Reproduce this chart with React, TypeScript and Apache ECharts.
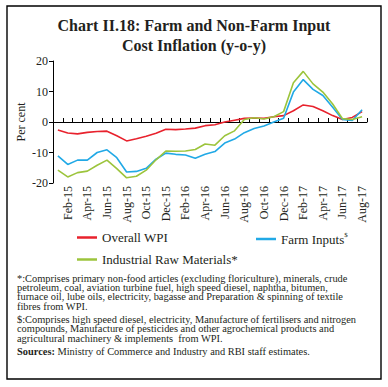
import React, { useEffect, useRef } from "react";
import * as echarts from "echarts";

const months: string[] = [
  "Jan-15", "Feb-15", "Mar-15", "Apr-15", "May-15", "Jun-15", "Jul-15", "Aug-15", "Sep-15", "Oct-15", "Nov-15", "Dec-15",
  "Jan-16", "Feb-16", "Mar-16", "Apr-16", "May-16", "Jun-16", "Jul-16", "Aug-16", "Sep-16", "Oct-16", "Nov-16", "Dec-16",
  "Jan-17", "Feb-17", "Mar-17", "Apr-17", "May-17", "Jun-17", "Jul-17", "Aug-17",
];

const overallWPI: number[] = [
  -2.6, -3.6, -3.9, -3.4, -3.1, -3.0, -4.5, -6.2, -5.5, -4.7, -3.7, -2.4,
  -2.5, -2.3, -2.0, -1.2, -0.9, 0.0, 0.6, 1.2, 1.3, 1.2, 1.7, 2.1,
  3.7, 5.6, 5.1, 3.7, 2.1, 0.8, 1.5, 3.4,
];

const farmInputs: number[] = [
  -11.1, -13.9, -12.5, -12.5, -10.0, -9.1, -11.7, -16.4, -16.2, -15.2, -12.2, -10.2,
  -10.6, -10.8, -11.9, -10.6, -9.7, -6.9, -5.6, -3.5, -2.1, -1.3, 0.0, 1.2,
  9.8, 13.9, 10.7, 8.7, 4.8, 0.8, 0.5, 4.0,
];

const industrialRaw: number[] = [
  -15.8, -18.0, -16.6, -16.1, -14.2, -12.5, -15.3, -18.3, -17.8, -15.8, -12.4, -9.5,
  -9.6, -9.5, -9.0, -7.2, -7.6, -4.5, -2.9, 0.8, 1.4, 1.0, 1.7, 3.4,
  12.9, 16.6, 12.5, 9.8, 5.9, 1.1, 0.8, 1.7,
];

const yTicks = { min: -20, max: 20, interval: 10 };

const titleLines: string[] = ["Chart II.18: Farm and Non-Farm Input", "Cost Inflation (y-o-y)"];

const noteStar: string[] = [
  "*:Comprises primary non-food articles (excluding floriculture), minerals, crude",
  "petroleum, coal, aviation turbine fuel, high speed diesel, naphtha, bitumen,",
  "furnace oil, lube oils, electricity, bagasse and Preparation & spinning of textile",
  "fibres from WPI.",
];
const noteDollar: string[] = [
  "$:Comprises high speed diesel, electricity, Manufacture of fertilisers and nitrogen",
  "compounds, Manufacture of pesticides and other agrochemical products and",
  "agricultural machinery & implements  from WPI.",
];
const sourceLabel = "Sources:";
const sourceText = " Ministry of Commerce and Industry and RBI staff estimates.";

const RED = "#e8222d";
const BLUE = "#21a9e6";
const GREEN = "#9cc43c";
const INK = "#231f20";
const SERIF = "'Liberation Serif', 'DejaVu Serif', serif";

export default function App() {
  const ref = useRef<HTMLDivElement>(null);
  useEffect(() => {
    if (!ref.current) return;
    const chart = echarts.init(ref.current, null, { renderer: "svg" });

    const noteFont = 10.4;
    const noteLH = 9.4;
    const noteX = 17;
    const graphics: any[] = [
      {
        type: "rect",
        shape: { x: 7, y: 6, width: 374, height: 373 },
        style: { fill: "none", stroke: "#000", lineWidth: 1.4 },
        silent: true,
      },
    ];
    titleLines.forEach((t, i) => {
      graphics.push({
        type: "text",
        x: 194,
        y: 25 + i * 20,
        style: {
          text: t,
          fill: INK,
          font: `bold 16px ${SERIF}`,
          textAlign: "center",
          textVerticalAlign: "middle",
        },
      });
    });
    const noteStyle = (t: string) => ({
      text: t,
      fill: INK,
      fontFamily: SERIF,
      fontSize: noteFont,
      lineHeight: noteLH,
      textVerticalAlign: "middle",
    });
    noteStar.forEach((t, i) => {
      graphics.push({ type: "text", x: noteX, y: 278 + i * noteLH, style: noteStyle(t) });
    });
    noteDollar.forEach((t, i) => {
      graphics.push({ type: "text", x: noteX, y: 319.5 + i * noteLH, style: noteStyle(t) });
    });
    graphics.push({
      type: "text",
      x: noteX,
      y: 351,
      style: {
        text: `{b|${sourceLabel}}{n|${sourceText}}`,
        textVerticalAlign: "middle",
        rich: {
          b: { fontFamily: SERIF, fontSize: noteFont, lineHeight: noteLH, fontWeight: "bold", fill: INK, color: INK },
          n: { fontFamily: SERIF, fontSize: noteFont, lineHeight: noteLH, fill: INK, color: INK },
        },
      },
    });

    const legendCommon = {
      orient: "horizontal",
      icon: "rect",
      itemWidth: 20,
      itemHeight: 2.5,
      itemGap: 5,
      textStyle: {
        fontFamily: SERIF,
        fontSize: 13,
        color: INK,
        rich: {
          a: { fontFamily: SERIF, fontSize: 13, color: INK },
          s: { fontFamily: SERIF, fontSize: 7, color: INK, padding: [0, 0, 9, 0] },
        },
      },
      formatter: (name: string) => (name === "Farm Inputs" ? `{a|${name}}{s|$}` : `{a|${name}}`),
    };

    chart.setOption({
      animation: false,
      backgroundColor: "#fff",
      graphic: graphics,
      legend: [
        { ...legendCommon, left: 72, top: 226, data: ["Overall WPI"] },
        { ...legendCommon, left: 251, top: 226, data: ["Farm Inputs"] },
        { ...legendCommon, left: 72, top: 248, data: ["Industrial Raw Materials*"] },
      ],
      grid: { left: 53, right: 21, top: 61, bottom: 204, containLabel: false },
      xAxis: [
        {
          type: "category",
          data: months,
          boundaryGap: true,
          axisLine: { onZero: true, lineStyle: { color: "#000", width: 1 } },
          axisTick: { show: true, inside: true, length: 4, interval: 0, lineStyle: { color: "#000" } },
          axisLabel: { show: false },
          splitLine: { show: false },
        },
        {
          type: "category",
          data: months,
          position: "bottom",
          boundaryGap: true,
          axisLine: { show: false, onZero: false },
          axisTick: { show: false },
          axisLabel: {
            show: true,
            rotate: 90,
            margin: 3,
            interval: (i: number) => i % 2 === 1,
            fontFamily: SERIF,
            fontSize: 12,
            color: INK,
          },
          splitLine: { show: false },
        },
      ],
      yAxis: {
        type: "value",
        min: yTicks.min,
        max: yTicks.max,
        interval: yTicks.interval,
        name: "Per cent",
        nameLocation: "middle",
        nameRotate: 90,
        nameGap: 26,
        nameMoveOverlap: false,
        nameTextStyle: { fontFamily: SERIF, fontSize: 12, color: INK },
        axisLine: { show: true, lineStyle: { color: "#000", width: 1 } },
        axisTick: { show: true, length: 4, lineStyle: { color: "#000" } },
        axisLabel: { fontFamily: SERIF, fontSize: 12, color: INK, margin: 5 },
        splitLine: { show: false },
      },
      series: [
        {
          name: "Overall WPI",
          type: "line",
          data: overallWPI,
          symbol: "none",
          lineStyle: { color: RED, width: 1.6 },
          itemStyle: { color: RED },
        },
        {
          name: "Farm Inputs",
          type: "line",
          data: farmInputs,
          symbol: "none",
          lineStyle: { color: BLUE, width: 1.6 },
          itemStyle: { color: BLUE },
        },
        {
          name: "Industrial Raw Materials*",
          type: "line",
          data: industrialRaw,
          symbol: "none",
          lineStyle: { color: GREEN, width: 1.6 },
          itemStyle: { color: GREEN },
        },
      ],
    });
    return () => chart.dispose();
  }, []);

  return <div ref={ref} style={{ width: 388, height: 387, position: "absolute", left: 0, top: 0 }} />;
}
